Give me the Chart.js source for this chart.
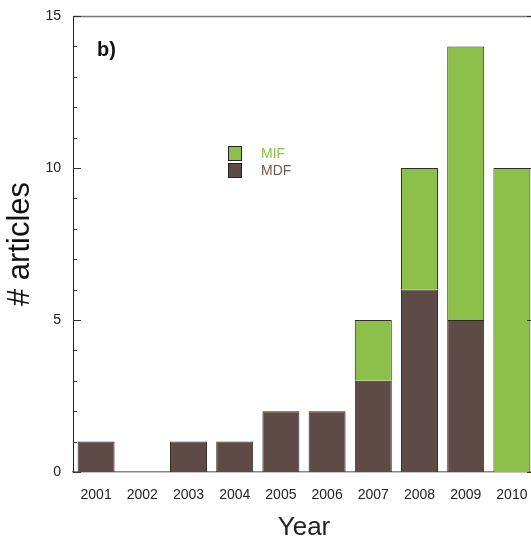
<!DOCTYPE html>
<html>
<head>
<meta charset="utf-8">
<script src="https://cdn.jsdelivr.net/npm/chart.js@4/dist/chart.umd.min.js"></script>
<style>
  html, body { margin: 0; padding: 0; background: #fff; overflow: hidden; }
  #wrap { width: 531px; height: 538px; overflow: hidden; }
</style>
</head>
<body>
<div id="wrap"><canvas id="myChart" width="535" height="541"></canvas></div>
<script>
// DATA
const years = ['2001', '2002', '2003', '2004', '2005', '2006', '2007', '2008', '2009', '2010'];
const mdfCounts = [1, 0, 1, 1, 2, 2, 3, 6, 5, 0];
const mifCounts = [0, 0, 0, 0, 0, 0, 2, 4, 9, 10];
const yTicks = [0, 5, 10, 15];

const mdfColor = '#5e4b47';
const mifColor = '#8cc04b';

// INWARD TICKS ON LEFT AND RIGHT, TOP FRAME LINE, PANEL LABEL AND LEGEND
const decorPlugin = {
    id: 'decor',
    afterDraw(chart) {
        const ctx = chart.ctx;
        const y = chart.scales.y;
        const area = chart.chartArea;
        ctx.save();
        // top frame line
        ctx.strokeStyle = '#777';
        ctx.lineWidth = 1.5;
        ctx.beginPath();
        ctx.moveTo(area.left, area.top + 0.5);
        ctx.lineTo(area.right, area.top + 0.5);
        ctx.stroke();
        // ticks
        ctx.strokeStyle = '#333';
        ctx.lineWidth = 1;
        for (let v = y.min; v <= y.max; v++) {
            const py = Math.round(y.getPixelForValue(v)) + 0.5;
            const len = yTicks.includes(v) ? 8 : 4;
            ctx.beginPath();
            ctx.moveTo(area.left, py);
            ctx.lineTo(area.left + len, py);
            ctx.moveTo(area.right, py);
            ctx.lineTo(area.right - len, py);
            ctx.stroke();
        }
        // panel label
        ctx.fillStyle = '#111';
        ctx.font = 'bold 20px "Liberation Sans", Arial, sans-serif';
        ctx.textBaseline = 'alphabetic';
        ctx.fillText('b)', 97, 56);
        // legend: MIF above MDF
        const items = [chart.data.datasets[1], chart.data.datasets[0]];
        ctx.font = '14px "Liberation Sans", Arial, sans-serif';
        ctx.textBaseline = 'middle';
        items.forEach((ds, i) => {
            const top = 146 + i * 17;
            ctx.fillStyle = ds.backgroundColor;
            ctx.fillRect(228, top, 14, 15);
            ctx.strokeStyle = '#222';
            ctx.strokeRect(228.5, top + 0.5, 13, 14);
            ctx.fillStyle = ds.legendText;
            ctx.fillText(ds.label, 261, top + 8);
        });
        ctx.restore();
    }
};

const ctx = document.getElementById('myChart').getContext('2d');
const myChart = new Chart(ctx, {
    type: 'bar',
    data: {
        labels: years,
        datasets: [
            {
                label: 'MDF',
                data: mdfCounts,
                backgroundColor: mdfColor,
                borderColor: '#2e2826',
                borderWidth: 1,
                legendText: '#6a5a56'
            },
            {
                label: 'MIF',
                data: mifCounts,
                backgroundColor: mifColor,
                borderColor: '#2e2e26',
                borderWidth: 1,
                legendText: mifColor
            }
        ]
    },
    options: {
        responsive: false,
        animation: false,
        layout: { padding: { top: 16, right: 0, left: 0, bottom: 0 } },
        datasets: {
            bar: { barPercentage: 0.8, categoryPercentage: 1.0 }
        },
        plugins: {
            legend: { display: false },
            tooltip: { enabled: false }
        },
        scales: {
            x: {
                stacked: true,
                grid: { display: false, drawTicks: false },
                border: { display: true, color: '#888', width: 1.5 },
                ticks: {
                    color: '#222',
                    padding: 15,
                    maxRotation: 0,
                    font: { family: '"Liberation Sans", Arial, sans-serif', size: 14 }
                },
                title: {
                    display: true,
                    text: 'Year',
                    color: '#222',
                    padding: { top: 0, bottom: 0 },
                    font: { family: '"Liberation Sans", Arial, sans-serif', size: 26, lineHeight: 1 }
                },
                afterFit(scale) {
                    scale.height = 69;
                    scale.paddingLeft = 0;
                    scale.paddingRight = 0;
                }
            },
            y: {
                stacked: true,
                min: 0,
                max: 15,
                grid: { display: false, drawTicks: false },
                border: { display: true, color: '#222', width: 1 },
                afterBuildTicks(scale) { scale.ticks = yTicks.map(v => ({ value: v })); },
                ticks: {
                    color: '#222',
                    padding: 12,
                    font: { family: '"Liberation Sans", Arial, sans-serif', size: 14 }
                },
                title: {
                    display: true,
                    text: '# articles',
                    color: '#111',
                    padding: { top: 2, bottom: 4 },
                    font: { family: '"Liberation Sans", Arial, sans-serif', size: 31 }
                },
                afterFit(scale) {
                    scale.width = 73;
                    scale.paddingTop = 0;
                    scale.paddingBottom = 0;
                }
            }
        }
    },
    plugins: [decorPlugin]
});
</script>
</body>
</html>
